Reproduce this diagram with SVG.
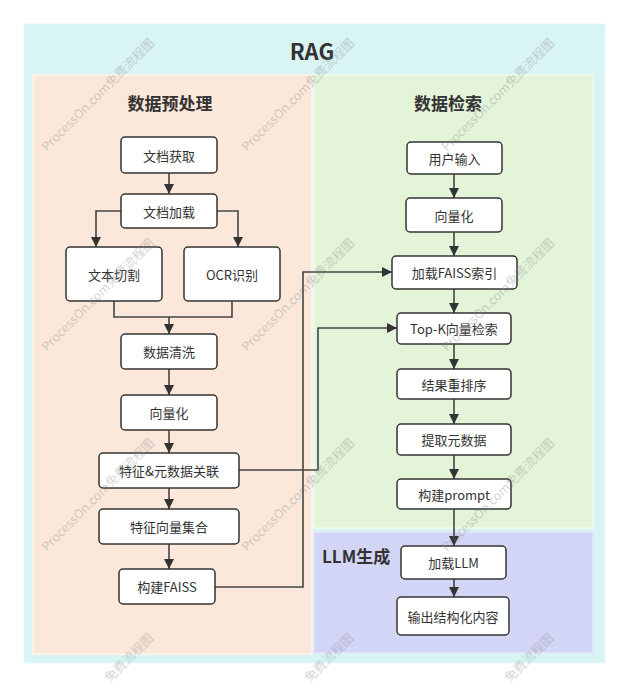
<svg xmlns="http://www.w3.org/2000/svg" width="628" height="687" viewBox="0 0 628 687">
<defs>
<style>
text{font-family:"Noto Sans CJK SC","Noto Sans",sans-serif;fill:#333}
.n rect{fill:#fff;stroke:#333;stroke-width:1.5}
.n text{font-size:13px;text-anchor:middle;dominant-baseline:central}
.t{font-weight:bold;text-anchor:middle;dominant-baseline:central}
.c path{fill:none;stroke:#444;stroke-width:1.6}
.wm{font-size:12.5px;fill:#888;opacity:0.35}
</style>
<marker id="a" viewBox="0 0 10 10" refX="10" refY="5" markerWidth="10" markerHeight="10" markerUnits="userSpaceOnUse" orient="auto">
<path d="M0,0 L10,5 L0,10 z" fill="#333"/>
</marker>
</defs>
<rect x="0" y="0" width="628" height="687" fill="#fff"/>
<g id="rag">
<rect x="24" y="24" width="581" height="639" fill="#d9f4f4" stroke="#e8f8f8" stroke-width="1"/>
<text class="t" x="312" y="50" style="font-size:22px">RAG</text>
</g>
<g id="lane-pre">
<rect x="33" y="75" width="279" height="579" fill="#fbe8da" stroke="#fdf3ec" stroke-width="1.5"/>
<text class="t" x="170" y="102" style="font-size:17px">数据预处理</text>
</g>
<g id="lane-ret">
<rect x="314" y="75" width="279" height="453" fill="#e3f4d9" stroke="#f0faea" stroke-width="1.5"/>
<text class="t" x="448" y="102" style="font-size:17px">数据检索</text>
</g>
<g id="lane-llm">
<rect x="314" y="532" width="279" height="121" fill="#d3d5f6" stroke="#e4e6fa" stroke-width="1.5"/>
<text x="322" y="555" style="font-size:17px;font-weight:bold;dominant-baseline:central">LLM生成</text>
</g>
<g class="c" id="connectors">
<path d="M169,173 V194" marker-end="url(#a)"/>
<path d="M121,211 H96 V247" marker-end="url(#a)"/>
<path d="M217,211 H238 V247" marker-end="url(#a)"/>
<path d="M114,301 V317 H232 V301"/>
<path d="M169,317 V334" marker-end="url(#a)"/>
<path d="M169,369 V395" marker-end="url(#a)"/>
<path d="M169,430 V453" marker-end="url(#a)"/>
<path d="M169,488 V509" marker-end="url(#a)"/>
<path d="M169,544 V569" marker-end="url(#a)"/>
<path d="M215,587 H303 V272 H392" marker-end="url(#a)"/>
<path d="M239,470 H318 V328 H397" marker-end="url(#a)"/>
<path d="M454,174 V198" marker-end="url(#a)"/>
<path d="M454,232 V256" marker-end="url(#a)"/>
<path d="M454,289 V313" marker-end="url(#a)"/>
<path d="M454,344 V369" marker-end="url(#a)"/>
<path d="M454,399 V424" marker-end="url(#a)"/>
<path d="M454,455 V479" marker-end="url(#a)"/>
<path d="M454,509 V546" marker-end="url(#a)"/>
<path d="M454,579 V597" marker-end="url(#a)"/>
</g>
<g class="n" id="n1"><rect x="121" y="137" width="96" height="36" rx="4"/><text x="169" y="155">文档获取</text></g>
<g class="n" id="n2"><rect x="121" y="194" width="96" height="34" rx="4"/><text x="169" y="211">文档加载</text></g>
<g class="n" id="n3"><rect x="66" y="247" width="96" height="54" rx="4"/><text x="114" y="274">文本切割</text></g>
<g class="n" id="n4"><rect x="184" y="247" width="96" height="54" rx="4"/><text x="232" y="274">OCR识别</text></g>
<g class="n" id="n5"><rect x="121" y="334" width="96" height="35" rx="4"/><text x="169" y="351.5">数据清洗</text></g>
<g class="n" id="n6"><rect x="121" y="395" width="96" height="35" rx="4"/><text x="169" y="412.5">向量化</text></g>
<g class="n" id="n7"><rect x="99" y="453" width="140" height="35" rx="4"/><text x="169" y="470.5">特征&amp;元数据关联</text></g>
<g class="n" id="n8"><rect x="99" y="509" width="140" height="35" rx="4"/><text x="169" y="526.5">特征向量集合</text></g>
<g class="n" id="n9"><rect x="119" y="569" width="96" height="35" rx="4"/><text x="167" y="586.5">构建FAISS</text></g>
<g class="n" id="r1"><rect x="407" y="142" width="95" height="32" rx="4"/><text x="454.5" y="158">用户输入</text></g>
<g class="n" id="r2"><rect x="406" y="198" width="96" height="34" rx="4"/><text x="454" y="215">向量化</text></g>
<g class="n" id="r3"><rect x="392" y="256" width="125" height="33" rx="4"/><text x="454.5" y="272.5">加载FAISS索引</text></g>
<g class="n" id="r4"><rect x="397" y="313" width="114" height="31" rx="4"/><text x="454" y="328.5">Top-K向量检索</text></g>
<g class="n" id="r5"><rect x="397" y="369" width="114" height="30" rx="4"/><text x="454" y="384">结果重排序</text></g>
<g class="n" id="r6"><rect x="397" y="424" width="114" height="31" rx="4"/><text x="454" y="439.5">提取元数据</text></g>
<g class="n" id="r7"><rect x="397" y="479" width="114" height="30" rx="4"/><text x="454" y="494">构建prompt</text></g>
<g class="n" id="l1"><rect x="401" y="546" width="105" height="33" rx="4"/><text x="453.5" y="562.5">加载LLM</text></g>
<g class="n" id="l2"><rect x="397" y="597" width="112" height="38" rx="4"/><text x="453" y="616">输出结构化内容</text></g>
<g id="watermarks">
<text class="wm" transform="translate(47,152) rotate(-45)">ProcessOn.com免费流程图</text>
<text class="wm" transform="translate(247,152) rotate(-45)">ProcessOn.com免费流程图</text>
<text class="wm" transform="translate(447,152) rotate(-45)">ProcessOn.com免费流程图</text>
<text class="wm" transform="translate(47,352) rotate(-45)">ProcessOn.com免费流程图</text>
<text class="wm" transform="translate(247,352) rotate(-45)">ProcessOn.com免费流程图</text>
<text class="wm" transform="translate(447,352) rotate(-45)">ProcessOn.com免费流程图</text>
<text class="wm" transform="translate(47,552) rotate(-45)">ProcessOn.com免费流程图</text>
<text class="wm" transform="translate(247,552) rotate(-45)">ProcessOn.com免费流程图</text>
<text class="wm" transform="translate(447,552) rotate(-45)">ProcessOn.com免费流程图</text>
<text class="wm" transform="translate(110,683) rotate(-45)">免费流程图</text>
<text class="wm" transform="translate(310,683) rotate(-45)">免费流程图</text>
<text class="wm" transform="translate(510,683) rotate(-45)">免费流程图</text>
</g>
</svg>
